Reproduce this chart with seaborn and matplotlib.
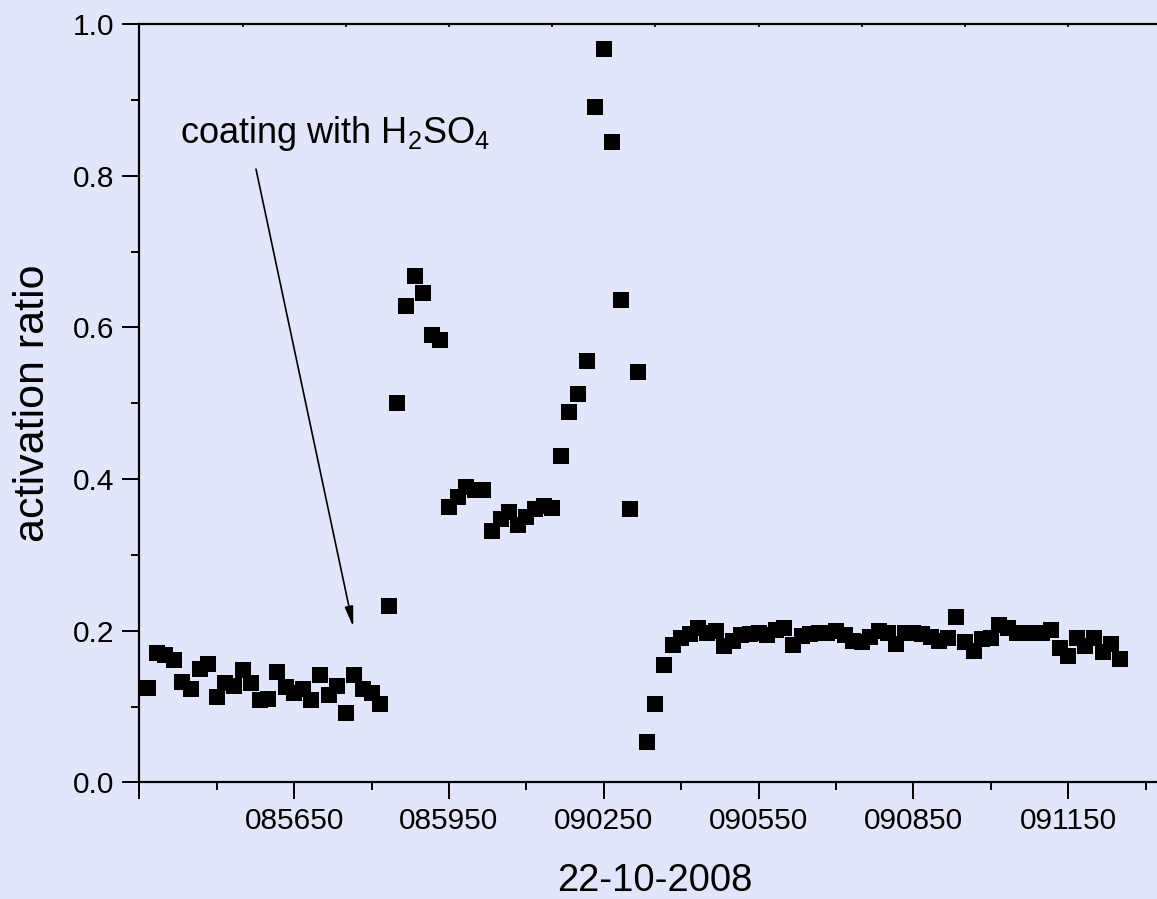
import numpy as np
import pandas as pd
import matplotlib
matplotlib.use("Agg")
import matplotlib.pyplot as plt
import seaborn as sns

# ---- data (seconds after 08:53:50, sampled every 10 s) ----
t_start = 10
t_step = 10
activation = [
    0.125, 0.170, 0.168, 0.161, 0.132, 0.123, 0.150, 0.156, 0.113, 0.131,
    0.127, 0.148, 0.131, 0.108, 0.110, 0.146, 0.126, 0.118, 0.123, 0.109,
    0.142, 0.115, 0.127, 0.092, 0.141, 0.123, 0.118, 0.103, 0.233, 0.500,
    0.629, 0.668, 0.645, 0.590, 0.584, 0.363, 0.376, 0.389, 0.386, 0.386,
    0.332, 0.348, 0.356, 0.339, 0.350, 0.361, 0.364, 0.362, 0.430, 0.489,
    0.512, 0.556, 0.891, 0.967, 0.845, 0.636, 0.360, 0.541, 0.053, 0.103,
    0.155, 0.181, 0.191, 0.195, 0.203, 0.197, 0.200, 0.180, 0.187, 0.194,
    0.196, 0.197, 0.194, 0.201, 0.203, 0.181, 0.193, 0.195, 0.197, 0.197,
    0.200, 0.194, 0.187, 0.185, 0.192, 0.199, 0.197, 0.182, 0.197, 0.197,
    0.196, 0.192, 0.187, 0.190, 0.218, 0.185, 0.173, 0.189, 0.191, 0.207,
    0.204, 0.197, 0.197, 0.197, 0.197, 0.201, 0.177, 0.167, 0.190, 0.180,
    0.190, 0.172, 0.183, 0.163,
]
seconds = [t_start + i * t_step for i in range(len(activation))]

x_major = [0, 180, 360, 540, 720, 900, 1080]
x_labels = ["", "085650", "085950", "090250", "090550", "090850", "091150"]
y_major = [0.0, 0.2, 0.4, 0.6, 0.8, 1.0]
y_labels = ["0.0", "0.2", "0.4", "0.6", "0.8", "1.0"]

df = pd.DataFrame({"t": seconds, "ratio": activation})

bg = "#E1E6FA"
sns.set_style("ticks")
plt.rcParams["font.family"] = ["Liberation Sans", "DejaVu Sans"]
plt.rcParams["mathtext.fontset"] = "custom"
plt.rcParams["mathtext.rm"] = "Liberation Sans"
plt.rcParams["mathtext.it"] = "Liberation Sans"
plt.rcParams["mathtext.bf"] = "Liberation Sans:bold"
plt.rcParams["mathtext.default"] = "rm"
for k in ["text.color", "axes.labelcolor", "xtick.color", "ytick.color", "axes.edgecolor"]:
    plt.rcParams[k] = "black"

fig = plt.figure(figsize=(11.57, 8.99), dpi=100, facecolor=bg)
ax = fig.add_axes([139.3 / 1157, (899 - 782.3) / 899, (1171.3 - 139.3) / 1157, (782.3 - 24.3) / 899])
ax.set_facecolor(bg)

sns.scatterplot(data=df, x="t", y="ratio", marker="s", s=125, color="black",
                linewidth=0, ax=ax, legend=False, zorder=3)

ax.set_xlim(0, 1200)
ax.set_ylim(0, 1.0)

ax.set_xticks(x_major)
ax.set_xticklabels(x_labels)
ax.set_xticks(np.arange(90, 1200, 180), minor=True)
ax.set_yticks(y_major)
ax.set_yticklabels(y_labels)
ax.set_yticks(np.arange(0.1, 1.0, 0.2), minor=True)

for s in ["left", "bottom", "top"]:
    ax.spines[s].set_linewidth(1.6)
    ax.spines[s].set_color("black")
ax.spines["right"].set_visible(False)

ax.tick_params(axis="both", which="major", direction="out", length=12, width=1.4,
               labelsize=21.5, colors="black", pad=6)
ax.tick_params(axis="both", which="minor", direction="out", length=6, width=1.4)
ax.tick_params(top=False, right=False)

sec = ax.secondary_xaxis("top")
sec.set_xticks(np.arange(0, 1201, 120))
sec.set_xticklabels([])
sec.tick_params(direction="in", length=2, width=1.2, colors="black")
sec.spines["top"].set_visible(False)

ax.set_xlabel("22-10-2008", fontsize=27.5, labelpad=20)
ax.set_ylabel("activation ratio", fontsize=31, labelpad=14)

ax.text(47.3, 0.843, r"coating with H$_2$SO$_4$", fontsize=26, ha="left", va="baseline")
ax.annotate("", xy=(248.8, 0.205), xytext=(135.7, 0.809),
            arrowprops=dict(arrowstyle="-|>,head_length=1.2,head_width=0.25",
                            color="black", lw=1.2, mutation_scale=10,
                            shrinkA=0, shrinkB=0))

fig.savefig("out.png", dpi=100, facecolor=bg)
